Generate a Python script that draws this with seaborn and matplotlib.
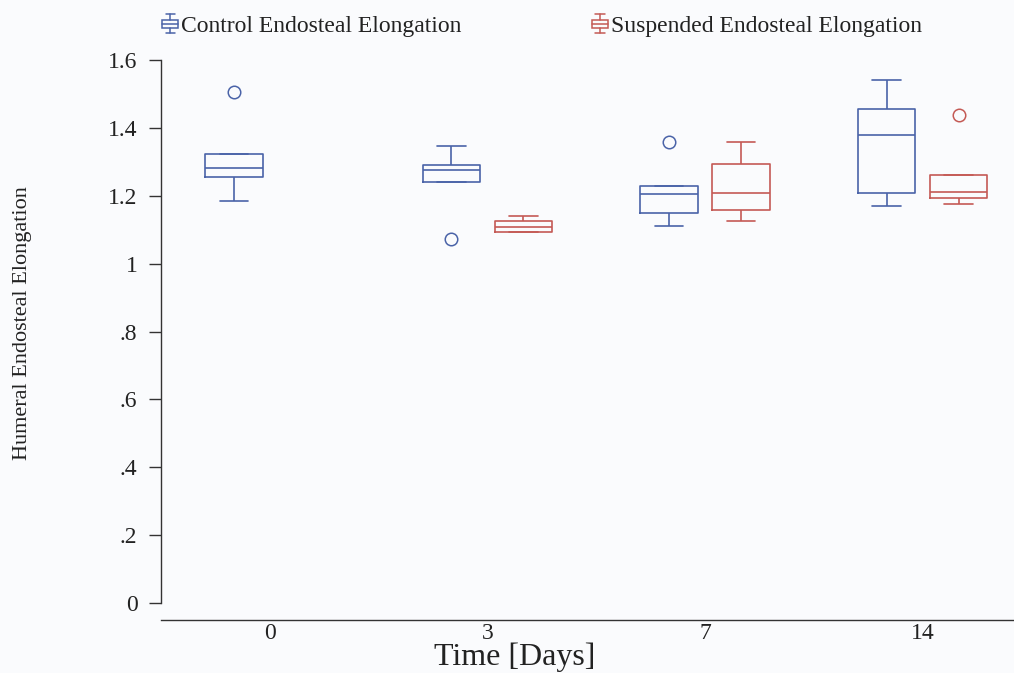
import numpy as np
import pandas as pd
import seaborn as sns
import matplotlib
matplotlib.use("Agg")
import matplotlib.pyplot as plt
from matplotlib.legend_handler import HandlerBase
from matplotlib.lines import Line2D
from matplotlib.patches import Rectangle

# Time points and group labels
days = ["0", "3", "7", "14"]
groups = ["Control Endosteal Elongation", "Suspended Endosteal Elongation"]

# Humeral endosteal elongation measurements per time point
control_d0 = [1.185, 1.256, 1.281, 1.322, 1.505]
control_d3 = [1.072, 1.240, 1.275, 1.291, 1.346]
control_d7 = [1.112, 1.148, 1.204, 1.228, 1.358]
control_d14 = [1.171, 1.209, 1.380, 1.455, 1.540]

suspended_d3 = [1.092, 1.093, 1.109, 1.125, 1.141]
suspended_d7 = [1.126, 1.159, 1.208, 1.293, 1.358]
suspended_d14 = [1.176, 1.192, 1.210, 1.261, 1.438]

y_ticks = [0, 0.2, 0.4, 0.6, 0.8, 1.0, 1.2, 1.4, 1.6]
y_tick_labels = ["0", ".2", ".4", ".6", ".8", "1", "1.2", "1.4", "1.6"]

colors = {"Control Endosteal Elongation": "#4a63a8",
          "Suspended Endosteal Elongation": "#c45a55"}

records = []
for day, vals in zip(days, [control_d0, control_d3, control_d7, control_d14]):
    records += [(day, groups[0], v) for v in vals]
for day, vals in zip(["3", "7", "14"], [suspended_d3, suspended_d7, suspended_d14]):
    records += [(day, groups[1], v) for v in vals]
df = pd.DataFrame(records, columns=["day", "group", "value"])

sns.set_theme(style="white")
plt.rcParams["font.family"] = ["Liberation Serif", "DejaVu Serif"]
bg = "#fafbfd"
ink = "#222222"

fig = plt.figure(figsize=(10.14, 6.73), dpi=100, facecolor=bg)
ax = fig.add_axes([161 / 1014, 1 - 620 / 673, 1 - 161 / 1014, (620 - 60) / 673])
ax.set_facecolor(bg)

sns.boxplot(data=df, x="day", y="value", hue="group", order=days,
            hue_order=groups, palette=colors, fill=False, width=0.66,
            gap=0.2, linewidth=1.2, whis=1.5,
            flierprops=dict(marker="o", markersize=9, markerfacecolor="none",
                            markeredgewidth=1.1),
            ax=ax, legend=False)

ax.set_xlim(-0.5, 3.42)
ax.set_ylim(-0.05, 1.6)
ax.set_yticks(y_ticks)
ax.set_yticklabels(y_tick_labels)
ax.tick_params(axis="y", which="major", left=True, length=9, width=1.0,
               pad=8, labelsize=17, color="#333333", labelcolor=ink)
ax.tick_params(axis="x", bottom=False, pad=-3.5, labelsize=17, labelcolor=ink)

for side in ["top", "right"]:
    ax.spines[side].set_visible(False)
for side in ["left", "bottom"]:
    ax.spines[side].set_color("#333333")
    ax.spines[side].set_linewidth(1.0)
ax.spines["left"].set_bounds(0, 1.6)

ax.set_xlabel("Time [Days]", fontsize=23, color=ink)
ax.xaxis.set_label_coords((515 - 161) / 853, (620 - 643) / 560)
ax.set_ylabel("Humeral Endosteal Elongation", fontsize=16, color=ink)
ax.yaxis.set_label_coords((32 - 161) / 853, (620 - 323) / 560)


class BoxGlyph(HandlerBase):
    """Small box-and-whisker icon for legend entries."""

    def create_artists(self, legend, orig_handle, xdescent, ydescent,
                       width, height, fontsize, trans):
        c = orig_handle.get_color()
        cx = width / 2 - xdescent
        bw = width * 0.95
        top = -ydescent + height * 1.05
        bot = -ydescent - height * 0.1
        bh = (top - bot) * 0.42
        by = (top + bot) / 2 - bh / 2
        kw = dict(color=c, lw=1.1, transform=trans)
        arts = [Rectangle((cx - bw / 2, by), bw, bh, fill=False, edgecolor=c,
                          lw=1.1, transform=trans),
                Line2D([cx - bw / 2, cx + bw / 2], [by + bh / 2] * 2, **kw),
                Line2D([cx, cx], [by + bh, top], **kw),
                Line2D([cx, cx], [by, bot], **kw),
                Line2D([cx - bw * 0.3, cx + bw * 0.3], [top] * 2, **kw),
                Line2D([cx - bw * 0.3, cx + bw * 0.3], [bot] * 2, **kw)]
        return arts


handles = [Line2D([], [], color=colors[g]) for g in groups]
fig.legend(handles, groups, handler_map={Line2D: BoxGlyph()},
           loc="center left", bbox_to_anchor=(162 / 1014, 1 - 26 / 673),
           ncol=2, frameon=False, fontsize=17, handlelength=0.7,
           handletextpad=0.12, columnspacing=5.5, labelcolor=ink,
           borderpad=0, borderaxespad=0)

fig.savefig("out.png", dpi=100, facecolor=bg)
